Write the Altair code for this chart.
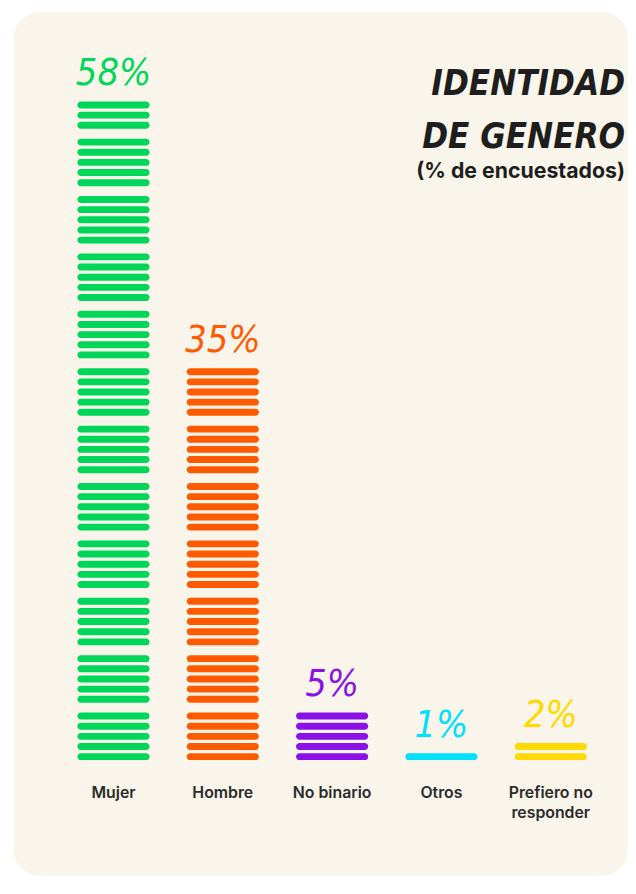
import altair as alt
import pandas as pd

# ---- data ----
categories = ["Mujer", "Hombre", "No binario", "Otros", "Prefiero no responder"]
axis_labels = ["Mujer", "Hombre", "No binario", "Otros", "Prefiero no\nresponder"]
values = [58, 35, 5, 1, 2]
colors = ["#00D65A", "#FF5A00", "#8A12E6", "#00E0FF", "#FFD900"]
title_lines = ["IDENTIDAD", "DE GENERO"]
subtitle = "(% de encuestados)"

# ---- layout constants (stripe units) ----
GROUP = 5          # stripes per group
GAP = 0.654        # extra gap between groups, in stripe pitches
HALF_H = 0.34      # half stripe thickness, in stripe pitches
HALF_W = 0.33      # half stripe width, in category steps

stripes = []
for idx, (cat, val) in enumerate(zip(categories, values)):
    for i in range(val):
        stripes.append({"cat": cat, "idx": idx, "i": i})
stripes = pd.DataFrame(stripes)

labels = pd.DataFrame({
    "cat": categories,
    "idx": list(range(len(categories))),
    "val": values,
    "axis_label": axis_labels,
})

W, H = 620, 872
xscale = alt.Scale(domain=[-0.9105, 4.7067], nice=False, zero=False)
yscale = alt.Scale(domain=[-11.737, 73.337], nice=False, zero=False)
cscale = alt.Scale(domain=categories, range=colors)

BRUSH = "DejaVu Sans Condensed, DejaVu Sans, Roboto"

bars = alt.Chart(stripes).transform_calculate(
    v=f"datum.i + floor(datum.i / {GROUP}) * {GAP}",
).transform_calculate(
    y0=f"datum.v - {HALF_H}", y1=f"datum.v + {HALF_H}",
    x0=f"datum.idx - {HALF_W}", x1=f"datum.idx + {HALF_W}",
).mark_bar(cornerRadius=3.5).encode(
    x=alt.X("x0:Q", scale=xscale, axis=None),
    x2="x1:Q",
    y=alt.Y("y0:Q", scale=yscale, axis=None),
    y2="y1:Q",
    color=alt.Color("cat:N", scale=cscale, legend=None),
)

pct = alt.Chart(labels).transform_calculate(
    top=f"(datum.val - 1) + floor((datum.val - 1) / {GROUP}) * {GAP}",
    txt="datum.val + '%'",
).mark_text(
    font=BRUSH, fontSize=38, fontStyle="italic", fontWeight="normal",
    baseline="alphabetic", align="center", dy=-20,
).encode(
    x=alt.X("idx:Q", scale=xscale, axis=None),
    y=alt.Y("top:Q", scale=yscale, axis=None),
    text="txt:N",
    color=alt.Color("cat:N", scale=cscale, legend=None),
)

cat_text = alt.Chart(labels).mark_text(
    font="Inter", fontSize=16, fontWeight=600, color="#2b2b2b",
    baseline="alphabetic", align="center", lineBreak="\n", lineHeight=21,
).encode(
    x=alt.X("idx:Q", scale=xscale, axis=None),
    y=alt.value(793),
    text="axis_label:N",
)

title_df = pd.DataFrame({"t": title_lines, "row": [0, 1]})
title = alt.Chart(title_df).mark_text(
    font=BRUSH, fontSize=35, fontStyle="italic", fontWeight="bold", color="#1e1e1e",
    align="right", baseline="alphabetic",
).encode(
    x=alt.value(617),
    y=alt.Y("row:Q", scale=alt.Scale(domain=[0, 1], range=[84, 137]), axis=None),
    text="t:N",
)

sub = alt.Chart(pd.DataFrame({"t": [subtitle]})).mark_text(
    font="Inter", fontSize=21.5, fontWeight="bold", color="#1e1e1e",
    align="right", baseline="alphabetic",
).encode(
    x=alt.value(617),
    y=alt.value(167),
    text="t:N",
)

chart = alt.layer(bars, pct, cat_text, title, sub).resolve_scale(y="independent").properties(
    width=W, height=H,
    padding={"left": 6, "top": 0, "right": 0, "bottom": 0},
    autosize=alt.AutoSizeParams(type="none"),
    background="#ffffff",
).configure_view(
    fill="#f9f5ea", stroke=None, cornerRadius=26,
)

chart.save("out.html", embed_options={"renderer": "svg", "actions": False})
